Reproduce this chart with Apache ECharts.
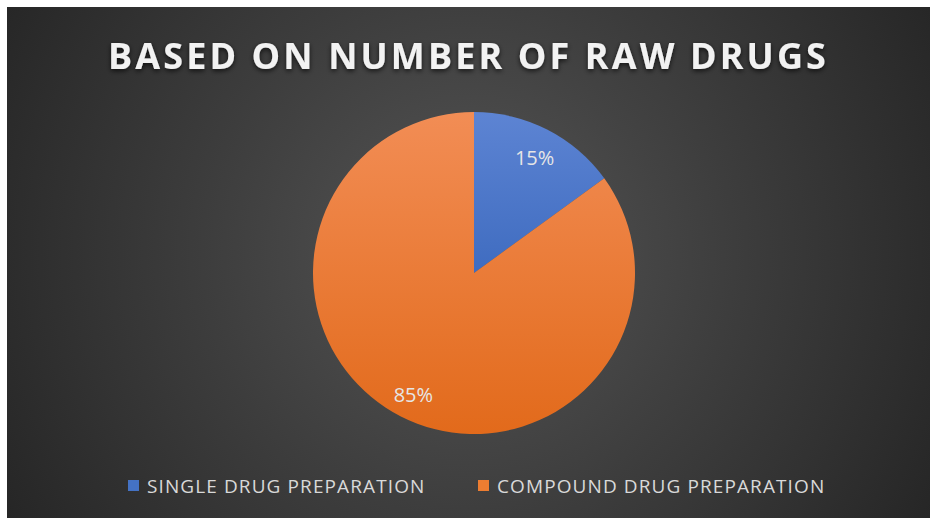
<!DOCTYPE html>
<html>
<head>
<meta charset="utf-8">
<script src="https://cdn.jsdelivr.net/npm/echarts@6/dist/echarts.min.js"></script>
<style>
html,body{margin:0;padding:0;background:#fff;width:930px;height:518px;overflow:hidden;}
#chart{position:absolute;left:7px;top:7px;width:923px;height:511px;
background:radial-gradient(circle farthest-corner at 50% 48%, #555555 0%, #3d3d3d 50%, #262626 100%);}
#chart text[style*="bold"]{letter-spacing:3.1px;}
#chart text[style*="19px"]{letter-spacing:1.1px;}
</style>
</head>
<body>
<div id="chart"></div>
<script>
const titleText = 'BASED ON NUMBER OF RAW DRUGS';
const categories = ['SINGLE DRUG PREPARATION', 'COMPOUND DRUG PREPARATION'];
const values = [15, 85];
const labelTexts = ['15%', '85%'];

const sliceColors = [
  {type:'linear', x:0, y:0, x2:0, y2:1, colorStops:[{offset:0,color:'#5d84d3'},{offset:1,color:'#3f6cc0'}]},
  {type:'linear', x:0, y:0, x2:0, y2:1, colorStops:[{offset:0,color:'#f28d55'},{offset:1,color:'#e26a1b'}]}
];
const legendColors = ['#4472c4', '#ed7d31'];
const legendLefts = [116, 466];

const chart = echarts.init(document.getElementById('chart'), null, {renderer:'svg'});
const mainData = categories.map((c,i)=>({name:c, value:values[i], itemStyle:{color:sliceColors[i]}}));
const labelData = categories.map((c,i)=>({name:c, value:values[i], label:{formatter:labelTexts[i]}}));

chart.setOption({
  backgroundColor:'transparent',
  animation:false,
  title:{
    text:titleText,
    left:'center',
    top:25,
    textStyle:{
      fontFamily:'Open Sans',
      fontWeight:'bold',
      fontSize:36,
      color:'#f2f2f2',
      textShadowColor:'rgba(0,0,0,0.7)',
      textShadowBlur:5,
      textShadowOffsetY:2
    }
  },
  legend:categories.map((c,i)=>({
    bottom:18,
    left:legendLefts[i],
    itemWidth:11,
    itemHeight:11,
    icon:'rect',
    textStyle:{fontFamily:'Open Sans', fontSize:19, color:'#d9d9d9', padding:[0,0,0,3]},
    data:[{name:c, itemStyle:{color:legendColors[i]}}]
  })),
  series:[
    {
      type:'pie',
      center:[467,266],
      radius:[0,161],
      startAngle:90,
      clockwise:true,
      label:{show:false},
      labelLine:{show:false},
      emphasis:{disabled:true},
      data:mainData
    },
    {
      type:'pie',
      center:[467,266],
      radius:[100,161],
      startAngle:90,
      clockwise:true,
      silent:true,
      itemStyle:{color:'rgba(0,0,0,0)'},
      label:{show:true, position:'inside', fontFamily:'Open Sans', fontSize:20, color:'#e6e6e6', offset:[0,3]},
      labelLine:{show:false},
      emphasis:{disabled:true},
      data:labelData
    }
  ]
});
</script>
</body>
</html>
